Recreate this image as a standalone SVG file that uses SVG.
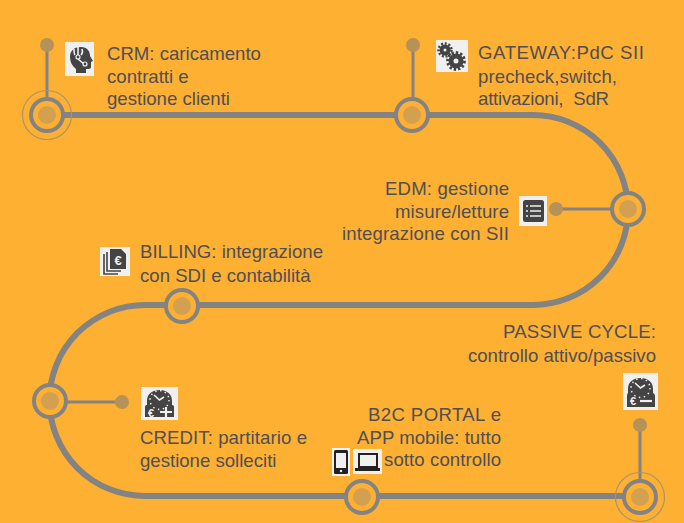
<svg xmlns="http://www.w3.org/2000/svg" width="684" height="523" viewBox="0 0 684 523">
<style>
.t{font-family:"Liberation Sans",Arial,sans-serif;font-size:18.6px;fill:#4f4f55}
.e{text-anchor:end}
.track{fill:none;stroke:#838383;stroke-width:6}
.stem{stroke:#838383;stroke-width:3;fill:none}
.pin{fill:#b59257}
.ring{fill:#ffb032;stroke:#838383;stroke-width:4}
.core{fill:#d2a050}
.halo{fill:none;stroke:#a8946c;stroke-width:1.2}
.box{fill:#f0f0f0}
.g{fill:#444}
.w{fill:#f0f0f0}
.wl{stroke:#f0f0f0;fill:none;stroke-width:1.6}
.pm{stroke:#f0f0f0;fill:none;stroke-width:2.2}
.tick{stroke:#f0f0f0;fill:none;stroke-width:1.5;stroke-dasharray:1.5 3.5}
.eu{font-family:"Liberation Sans",sans-serif;font-weight:bold;fill:#f0f0f0}
</style>
<rect width="684" height="523" fill="#feb033"/>
<g id="connectors">
<path class="track" d="M47 115H533A95 95 0 0 1 533 305H145A95.500 95.500 0 0 0 145 496H640"/>
<path class="stem" d="M47 45V115M413 45V115M556 209H628M122 402H50M640 425V497"/>
</g>
<g id="crm">
<circle class="pin" cx="47" cy="45" r="7"/>
<circle class="halo" cx="47" cy="115" r="24.500"/><circle class="ring" cx="47" cy="115" r="16"/><circle class="core" cx="47" cy="115" r="9"/>
<rect class="box" x="65" y="42" width="29" height="34"/>
<path class="g" d="M70 57C70 50 75 47 81 47C87 47 90 51 90 56L93 61L91 62V67C91 69 89 69 86 69V73H76V69C72 66 70 62 70 57Z"/>
<path class="wl" d="M78 47V55M74 49C74 52 74 54 75 55M82 49C83 52 82 54 81 55M78 59L84 64"/>
<circle cx="78" cy="57" r="2" fill="#444" stroke="#f0f0f0" stroke-width="1.200"/><circle cx="85" cy="64" r="2" fill="#444" stroke="#f0f0f0" stroke-width="1.200"/>
<text class="t" x="107" y="60">CRM: caricamento</text><text class="t" x="107" y="83">contratti e</text><text class="t" x="107" y="105">gestione clienti</text>
</g>
<g id="gateway">
<circle class="pin" cx="413" cy="45" r="7"/>
<circle class="ring" cx="412" cy="115" r="16"/><circle class="core" cx="412" cy="115" r="9"/>
<rect class="box" x="436" y="40" width="32" height="32"/>
<circle cx="445" cy="50" r="3.500" fill="none" stroke="#444" stroke-width="4"/><circle cx="445" cy="50" r="6.500" fill="none" stroke="#444" stroke-width="2.500" stroke-dasharray="2 1.700"/>
<circle cx="456" cy="61" r="5" fill="none" stroke="#444" stroke-width="5"/><circle cx="456" cy="61" r="8.500" fill="none" stroke="#444" stroke-width="2.800" stroke-dasharray="2.400 2"/>
<text class="t" x="478" y="59" textLength="166">GATEWAY:PdC SII</text><text class="t" x="478" y="83" textLength="139">precheck,switch,</text><text class="t" x="478" y="105" textLength="131" xml:space="preserve">attivazioni,  SdR</text>
</g>
<g id="edm">
<circle class="pin" cx="556" cy="209" r="7"/>
<circle class="ring" cx="628" cy="209" r="16"/><circle class="core" cx="628" cy="209" r="9"/>
<rect class="box" x="519" y="196" width="28" height="30"/>
<rect class="g" x="523" y="200" width="21" height="22" rx="2.500"/>
<path class="wl" d="M530 206H541M530 211H541M530 216H541M526 206H528M526 211H528M526 216H528"/>
<text class="t e" x="509" y="195" textLength="124">EDM: gestione</text><text class="t e" x="509" y="218" textLength="114">misure/letture</text><text class="t e" x="509" y="240" textLength="167">integrazione con SII</text>
</g>
<g id="billing">
<circle class="ring" cx="182" cy="306" r="16"/><circle class="core" cx="182" cy="306" r="9"/>
<rect class="box" x="100" y="247" width="30" height="29"/>
<path d="M104 254V274H118" fill="none" stroke="#444" stroke-width="1.600"/><path d="M107 252V271H121" fill="none" stroke="#444" stroke-width="1.600"/>
<path class="g" d="M110 249H121L126 254V269H110Z"/>
<text class="eu" x="118" y="265" text-anchor="middle" font-size="13">€</text>
<text class="t" x="140" y="258" textLength="183">BILLING: integrazione</text><text class="t" x="140" y="282">con SDI e contabilità</text>
</g>
<g id="credit">
<circle class="pin" cx="122" cy="402" r="7"/>
<circle class="ring" cx="50" cy="401" r="16"/><circle class="core" cx="50" cy="401" r="9"/>
<rect class="box" x="141" y="387" width="37" height="33"/>
<path class="g" d="M147 405V401C147 394 152 390 159.500 390C167 390 172 394 172 401V405C174 405 174 406 174 408V417H145V408C145 406 145 405 147 405Z"/>
<circle class="tick" cx="159.500" cy="400" r="9.500"/>
<path class="wl" d="M154 395L159.500 400L164 397"/>
<text class="eu" x="148" y="416.500" font-size="11">€</text>
<path class="pm" d="M160 412H172M166 407V417"/>
<text class="t" x="140" y="444" textLength="167">CREDIT: partitario e</text><text class="t" x="140" y="467">gestione solleciti</text>
</g>
<g id="b2c">
<circle class="ring" cx="362" cy="497" r="16"/><circle class="core" cx="362" cy="497" r="9"/>
<rect class="box" x="332" y="448" width="18" height="28"/>
<rect x="334" y="450" width="14" height="24" rx="1.500" fill="#222"/><rect class="w" x="336" y="453" width="10" height="15"/><circle class="w" cx="341" cy="471" r="1.200"/>
<rect class="box" x="353" y="449" width="29" height="25"/>
<rect x="358" y="453" width="20" height="15" fill="#222"/><rect class="w" x="360" y="455" width="16" height="11"/><rect x="355" y="468" width="25" height="3" fill="#222"/>
<text class="t e" x="501" y="421" textLength="133">B2C PORTAL e</text><text class="t e" x="501" y="444" textLength="144">APP mobile: tutto</text><text class="t e" x="501" y="466" textLength="117">sotto controllo</text>
</g>
<g id="passive">
<circle class="pin" cx="640" cy="425" r="7"/>
<circle class="halo" cx="640" cy="497" r="24.500"/><circle class="ring" cx="640" cy="497" r="16"/><circle class="core" cx="640" cy="497" r="9"/>
<rect class="box" x="623" y="373" width="35" height="37"/>
<path class="g" d="M628 393V389C628 382 633 378 640.500 378C648 378 653 382 653 389V393C655 394 655 395 655 397V407H627V397C627 395 627 394 628 393Z"/>
<circle class="tick" cx="640.500" cy="388" r="9.500"/>
<path class="wl" d="M635 383L640.500 388L645 385"/>
<text class="eu" x="630" y="404.500" font-size="11">€</text>
<path class="pm" d="M640 401H652"/>
<text class="t e" x="656" y="338" textLength="153">PASSIVE CYCLE:</text><text class="t e" x="656" y="362" textLength="188">controllo attivo/passivo</text>
</g>
</svg>
